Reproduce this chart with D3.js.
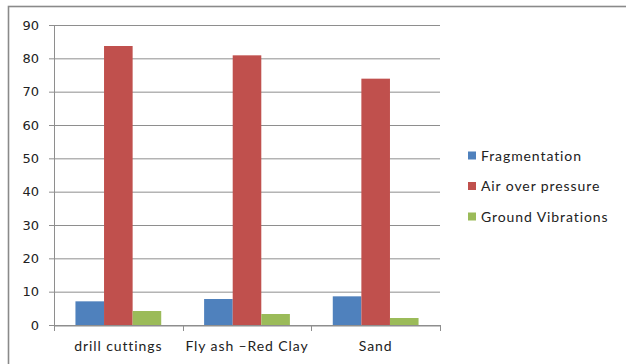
<!DOCTYPE html>
<html>
<head>
<meta charset="utf-8">
<script src="https://cdn.jsdelivr.net/npm/d3@7/dist/d3.min.js"></script>
<style>
  html, body { margin: 0; padding: 0; background: #fff; }
  svg { display: block; }
</style>
</head>
<body>
<svg id="chart" width="626" height="364"></svg>
<script>
// Data
const categories = ["drill cuttings", "Fly ash \u2013Red  Clay", "Sand"];
const seriesNames = ["Fragmentation", "Air over pressure", "Ground Vibrations"];
const fragmentation = [7.1, 7.8, 8.6];
const airOverPressure = [83.7, 80.9, 73.9];
const groundVibrations = [4.2, 3.3, 2.1];
const yTicks = [0, 10, 20, 30, 40, 50, 60, 70, 80, 90];
const colors = ["#4f81bd", "#c0504d", "#9bbb59"];

const seriesValues = [fragmentation, airOverPressure, groundVibrations];

const svg = d3.select("#chart");
const W = 626, H = 364;
const plot = { left: 54, right: 440, top: 25, bottom: 325 };

// Outer chart border
svg.append("rect")
  .attr("x", 8.5).attr("y", 6.5)
  .attr("width", W + 10).attr("height", H + 10)
  .attr("fill", "none")
  .attr("stroke", "#8a8a8a")
  .attr("stroke-width", 1.6);

const y = d3.scaleLinear().domain([0, 90]).range([plot.bottom, plot.top]);
const x = d3.scaleBand().domain(categories).range([plot.left, plot.right]).padding(0);
const bw = x.bandwidth();
const gap = bw * 0.75 / 4.5;
const xs = d3.scaleBand().domain(seriesNames).range([gap, bw - gap]).padding(0);

// Gridlines with left tick marks
const yAxis = d3.axisLeft(y).tickValues(yTicks).tickSize(-(plot.right - plot.left)).tickPadding(10)
  .tickFormat(d3.format("d"));
const gy = svg.append("g").attr("transform", `translate(${plot.left},0)`).call(yAxis);
gy.select(".domain").remove();
gy.selectAll(".tick line")
  .attr("x1", -5)
  .attr("stroke", "#8e8e8e")
  .attr("stroke-width", 1);
gy.selectAll(".tick text")
  .attr("x", -15)
  .attr("fill", "#222")
  .style("font-family", "'DejaVu Sans', Verdana, sans-serif")
  .style("font-size", "13px");

// Y axis line
svg.append("line")
  .attr("x1", plot.left + 0.5).attr("x2", plot.left + 0.5)
  .attr("y1", plot.top).attr("y2", plot.bottom)
  .attr("stroke", "#8e8e8e");

// Bars
const rows = categories.map((c, i) => ({ cat: c, vals: seriesNames.map((s, j) => ({ s, j, v: seriesValues[j][i] })) }));
const groups = svg.append("g").selectAll("g").data(rows).join("g")
  .attr("transform", d => `translate(${x(d.cat)},0)`);
groups.selectAll("rect").data(d => d.vals).join("rect")
  .attr("x", d => xs(d.s))
  .attr("y", d => y(d.v))
  .attr("width", xs.bandwidth())
  .attr("height", d => y(0) - y(d.v))
  .attr("fill", d => colors[d.j]);

// X axis
const xAxis = d3.axisBottom(x).tickSize(0).tickPadding(16);
const gx = svg.append("g").attr("transform", `translate(0,${plot.bottom + 0.5})`).call(xAxis);
gx.select(".domain").attr("stroke", "#8e8e8e");
gx.selectAll(".tick text")
  .attr("fill", "#222")
  .style("font-family", "Lato, 'Open Sans', sans-serif")
  .style("font-size", "14px")
  .style("letter-spacing", "0.9px");
// Category boundary marks
const bounds = categories.map(c => x(c)).concat([plot.right]);
svg.append("g").selectAll("line").data(bounds).join("line")
  .attr("x1", d => Math.round(d) + 0.5).attr("x2", d => Math.round(d) + 0.5)
  .attr("y1", plot.bottom).attr("y2", plot.bottom + 6)
  .attr("stroke", "#8e8e8e");

// Legend
const legend = svg.append("g").attr("transform", "translate(468,156)");
const li = legend.selectAll("g").data(seriesNames).join("g")
  .attr("transform", (d, i) => `translate(0,${i * 30.5})`);
li.append("rect")
  .attr("x", 0).attr("y", -4.5)
  .attr("width", 8).attr("height", 8)
  .attr("fill", (d, i) => colors[i]);
li.append("text")
  .attr("x", 13).attr("y", 0)
  .attr("dy", "0.35em")
  .attr("fill", "#222")
  .style("font-family", "Lato, 'Open Sans', sans-serif")
  .style("font-size", "14px")
  .style("letter-spacing", "0.9px")
  .text(d => d);
</script>
</body>
</html>
